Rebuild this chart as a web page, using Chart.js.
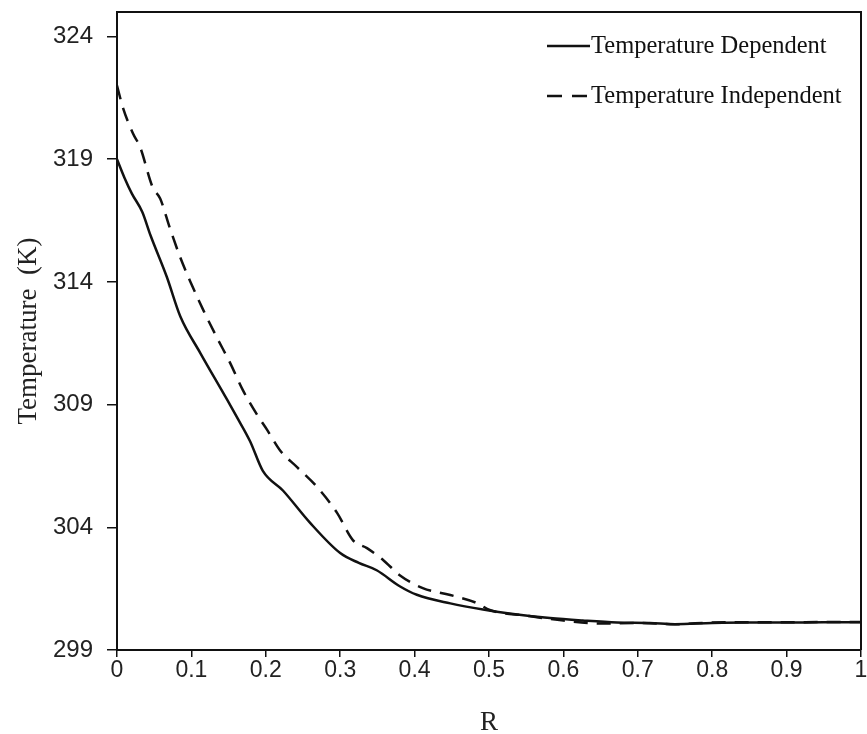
<!DOCTYPE html>
<html>
<head>
<meta charset="utf-8">
<script src="https://cdn.jsdelivr.net/npm/chart.js@4.4.1/dist/chart.umd.min.js"></script>
<style>
  html, body { margin: 0; padding: 0; background: #fff; }
  #wrap { width: 867px; height: 734px; }
</style>
</head>
<body>
<div id="wrap"><canvas id="myChart" width="867" height="734"></canvas></div>
<script>
// values
const seriesNames = ['Temperature Dependent', 'Temperature Independent'];

const rDependent = [0, 0.01, 0.02, 0.034, 0.045, 0.067, 0.085, 0.112, 0.148, 0.161, 0.179, 0.196, 0.223, 0.259, 0.3, 0.325, 0.349, 0.38, 0.403, 0.448, 0.492, 0.538, 0.582, 0.626, 0.672, 0.716, 0.75, 0.8, 0.85, 0.9, 0.95, 1.0];
const tDependent = [319.0, 318.25, 317.6, 316.85, 315.9, 314.2, 312.6, 311.1, 309.2, 308.5, 307.5, 306.3, 305.5, 304.2, 302.95, 302.55, 302.25, 301.6, 301.25, 300.9, 300.65, 300.45, 300.3, 300.2, 300.12, 300.1, 300.05, 300.1, 300.12, 300.12, 300.13, 300.13];

const rIndependent = [0, 0.008, 0.0215, 0.031, 0.048, 0.058, 0.071, 0.085, 0.098, 0.116, 0.134, 0.152, 0.169, 0.188, 0.202, 0.219, 0.242, 0.269, 0.296, 0.317, 0.336, 0.358, 0.38, 0.411, 0.448, 0.484, 0.501, 0.55, 0.6, 0.65, 0.7, 0.75, 0.8, 0.85, 0.9, 0.95, 1.0];
const tIndependent = [322.0, 321.1, 320.05, 319.5, 317.85, 317.4, 316.2, 315.0, 314.05, 312.85, 311.75, 310.7, 309.6, 308.6, 307.96, 307.14, 306.45, 305.64, 304.58, 303.48, 303.15, 302.66, 302.05, 301.52, 301.24, 300.91, 300.63, 300.4, 300.2, 300.08, 300.1, 300.05, 300.12, 300.13, 300.13, 300.14, 300.14];

const xTicks = [0, 0.1, 0.2, 0.3, 0.4, 0.5, 0.6, 0.7, 0.8, 0.9, 1];
const yTicks = [299, 304, 309, 314, 319, 324];

function toPoints(xs, ys) {
	return xs.map((x, i) => ({ x: x, y: ys[i] }));
}

// frame round the plot and the legend inside it
const framePlugin = {
	id: 'frame',
	afterDraw(chart) {
		const ctx = chart.ctx;
		const a = chart.chartArea;
		ctx.save();
		ctx.strokeStyle = '#111';
		ctx.lineWidth = 2;
		ctx.beginPath();
		ctx.moveTo(a.left, a.top);
		ctx.lineTo(a.right, a.top);
		ctx.lineTo(a.right, a.bottom);
		ctx.stroke();

		ctx.font = '24.5px "Liberation Serif", "Times New Roman", serif';
		ctx.fillStyle = '#111';
		ctx.textBaseline = 'middle';
		ctx.textAlign = 'left';
		const rows = [46, 96];
		chart.data.datasets.forEach((ds, i) => {
			const y = rows[i];
			ctx.beginPath();
			ctx.lineWidth = 2.5;
			ctx.setLineDash(i === 0 ? [] : [15, 10]);
			ctx.moveTo(547, y);
			ctx.lineTo(590, y);
			ctx.stroke();
			ctx.setLineDash([]);
			ctx.fillText(ds.label, 591, y + 1);
		});
		ctx.restore();
	}
};

const ctx = document.getElementById('myChart').getContext('2d');
new Chart(ctx, {
	type: 'line',
	data: {
		datasets: [{
			label: seriesNames[0],
			data: toPoints(rDependent, tDependent),
			borderColor: '#111',
			borderWidth: 2.5,
			pointRadius: 0,
			cubicInterpolationMode: 'monotone'
		}, {
			label: seriesNames[1],
			data: toPoints(rIndependent, tIndependent),
			borderColor: '#111',
			borderWidth: 2.5,
			borderDash: [14, 9],
			pointRadius: 0,
			cubicInterpolationMode: 'monotone'
		}]
	},
	options: {
		responsive: false,
		animation: false,
		layout: { padding: { left: 0, right: 6, top: 12, bottom: 0 } },
		plugins: {
			legend: { display: false },
			tooltip: { enabled: false }
		},
		scales: {
			x: {
				type: 'linear',
				min: 0,
				max: 1,
				afterFit(scale) {
					scale.height = 84;
					scale.paddingLeft = 0;
					scale.paddingRight = 0;
				},
				afterBuildTicks(scale) { scale.ticks = xTicks.map(v => ({ value: v })); },
				grid: { drawOnChartArea: false, drawTicks: true, tickLength: 7, color: '#111', lineWidth: 1.5 },
				border: { display: true, color: '#111', width: 2 },
				ticks: {
					padding: 0,
					color: '#222',
					font: { family: '"Liberation Sans", Arial, sans-serif', size: 23 },
					maxRotation: 0,
					callback: v => String(v)
				},
				title: {
					display: true,
					text: 'R',
					color: '#222',
					padding: { top: 0, bottom: -5 },
					font: { family: '"Liberation Serif", "Times New Roman", serif', size: 27 }
				}
			},
			y: {
				type: 'linear',
				min: 299,
				max: 325,
				afterFit(scale) {
					scale.width = 117;
					scale.paddingTop = 0;
					scale.paddingBottom = 0;
				},
				afterBuildTicks(scale) { scale.ticks = yTicks.map(v => ({ value: v })); },
				grid: { drawOnChartArea: false, drawTicks: true, tickLength: 10, color: '#111', lineWidth: 1.5 },
				border: { display: true, color: '#111', width: 2 },
				ticks: {
					padding: 14,
					color: '#222',
					font: { family: '"Liberation Sans", Arial, sans-serif', size: 24 }
				},
				title: {
					display: true,
					text: 'Temperature  (K)',
					color: '#222',
					padding: { top: 13, bottom: 0 },
					font: { family: '"Liberation Serif", "Times New Roman", serif', size: 27 }
				}
			}
		}
	},
	plugins: [framePlugin]
});
</script>
</body>
</html>
